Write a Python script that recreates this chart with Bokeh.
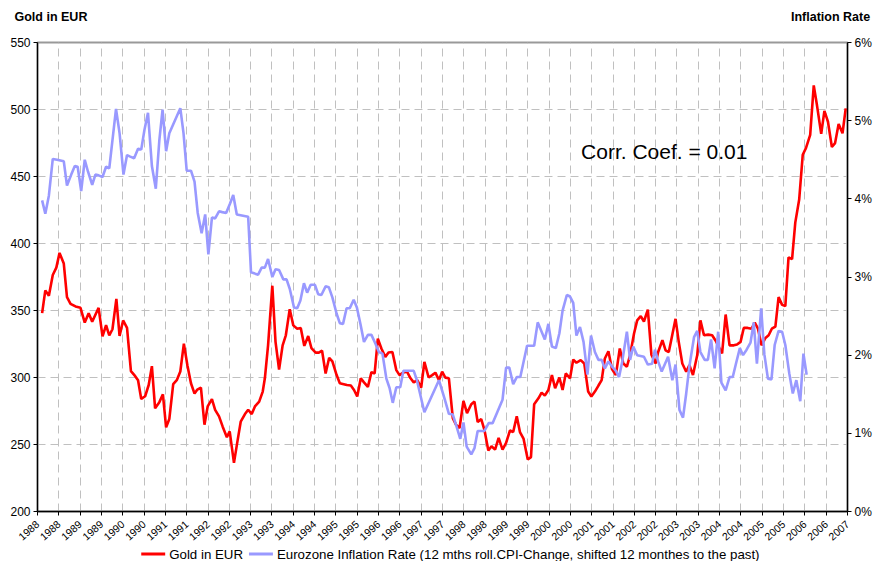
from bokeh.plotting import figure
from bokeh.layouts import column
from bokeh.models import (Range1d, LinearAxis, FixedTicker, Label)
from bokeh.core.properties import value
from bokeh.embed import file_html
from bokeh.resources import INLINE

# ---- data (months since Jan 1988) ----
gold_month = [1.3, 2.2, 3.2, 4.3, 5.3, 6.2, 7.4, 8.3, 9.3, 10.7, 12.1, 13.3, 14.4, 15.4, 17.2, 18.3,
              19.3, 20.2, 21.1, 22.2, 23.1, 24.1, 25.2, 26.3, 27.5, 28.3, 29.2, 30.3, 31.3, 32.2, 33.1,
              34.3, 35.3, 36.2, 37.1, 38.2, 39.2, 40.2, 41.2, 42.2, 43.2, 44.2, 45.0, 46.0, 47.0, 47.9,
              49.1, 50.0, 51.1, 52.1, 53.3, 54.1, 55.3, 56.2, 57.2, 58.4, 59.3, 60.3, 61.2, 62.4, 63.4,
              64.0, 64.9, 66.1, 67.0, 68.0, 69.0, 69.9, 71.0, 72.0, 73.1, 74.1, 75.1, 76.2, 77.1, 78.3,
              79.2, 80.1, 81.1, 82.1, 83.0, 84.2, 85.1, 86.2, 87.1, 88.2, 89.1, 90.0, 91.0, 91.9, 93.0,
              94.0, 94.9, 95.8, 96.8, 97.9, 98.8, 99.9, 101.0, 101.9, 103.0, 104.0, 105.0, 105.9, 106.9,
              108.0, 108.9, 110.1, 111.1, 112.0, 113.0, 113.9, 114.8, 115.8, 116.9, 117.8, 118.8, 119.9,
              120.9, 122.1, 123.0, 123.9, 124.9, 125.8, 126.9, 127.8, 128.8, 129.8, 130.9, 131.9, 133.0,
              133.9, 134.9, 135.8, 136.8, 138.0, 138.9, 139.8, 141.0, 141.9, 142.8, 143.8, 144.8, 145.7,
              146.9, 147.8, 148.7, 149.9, 150.8, 151.7, 152.9, 153.9, 155.0, 155.9, 156.9, 157.9, 158.8,
              159.7, 160.7, 161.7, 162.8, 163.9, 164.9, 165.9, 166.8, 167.9, 168.8, 169.8, 170.7, 171.8,
              172.8, 174.0, 174.7, 175.9, 176.8, 177.7, 179.6, 180.5, 181.5, 182.6, 183.5, 184.5, 185.7,
              186.6, 187.6, 188.8, 189.9, 190.8, 192.7, 193.7, 194.8, 196.0, 196.9, 197.9, 198.8, 199.9,
              201.0, 201.9, 202.8, 203.8, 204.9, 205.8, 206.7, 207.7, 208.6, 209.6, 210.5, 211.4, 212.4,
              213.3, 214.4, 215.4, 216.3, 217.5, 218.5, 219.4, 220.6, 221.5, 222.5, 223.6, 224.5, 225.5,
              226.6, 227.5]
gold_eur = [348, 365, 361, 376.5, 382, 393, 385, 360, 355, 353, 352, 341, 348, 341.6, 352, 330.7,
            339, 331.5, 336, 358.7, 331, 342.6, 337, 304.8, 301, 298, 284, 286, 294.4, 308.5, 277,
            281.6, 287.5, 262.8, 269, 295, 298, 304.5, 325.3, 309, 295.7, 288, 291, 292.5, 264.8, 278.4,
            283.8, 275.9, 271, 263.5, 255.4, 259.8, 236.3, 251, 267, 272.7, 275.9, 272.7, 278.4, 282, 289.5,
            299.4, 324, 368.5, 326.6, 306, 324, 331.5, 351, 338.9, 336.4, 337, 323.6, 331, 322, 318.6,
            318.6, 320, 303, 314.7, 312, 301.8, 295.7, 295, 294.4, 294, 290.7, 285.8, 299.4, 296.4, 293,
            304, 303, 329, 321.6, 315.4, 318.6, 319, 305.5, 301.8, 303.8, 304.3, 299.4, 296.4, 298,
            292.5, 311.7, 300, 301.8, 303.6, 298, 304.3, 299.9, 299.4, 269.7, 264.8, 262.3, 282.5,
            273.4, 280, 282, 266.7, 269, 261, 245.5, 248.7, 246.2, 254.9, 246.2, 251.2, 260.6,
            259.3, 271, 259.3, 254.4, 238.8, 240.6, 280, 284.5, 288.7, 286.5, 290.7, 301.8, 292,
            300, 290.7, 303, 299.4, 313.4, 311, 313, 310.5, 289.5, 285.8, 289.5, 294, 298,
            314.2, 319.6, 306.3, 301.8, 321.6, 310.5, 308, 316.7, 332.7, 342.6, 345.8, 341.8, 350.7,
            317, 310.5, 319, 327.8, 320.3, 319, 343.8, 326.6, 310.5, 304.3, 309.2, 301.8, 316.6,
            342.6, 331.5, 332, 331.5, 327.8, 318, 347, 324, 324, 324.6, 326.6, 337, 337,
            336.4, 340.9, 336.4, 324, 329.5, 331.5, 336.4, 338, 360, 354.2, 353.3, 389.6, 388.3,
            415.6, 432.8, 466.2, 471.2, 481, 518, 503.3, 481.8, 499, 490.9, 472, 474.9, 489.2,
            482.3, 500.8]

infl_month = [1.3, 2.2, 3.2, 4.3, 5.5, 7.4, 8.3, 9.5, 10.5, 11.3, 12.3, 13.3, 14.2, 15.4, 16.3, 17.2,
              18.3, 19.3, 20.2, 22.1, 23.1, 24.2, 25.2, 26.1, 27.2, 28.3, 29.2, 30.1, 31.1, 32.2, 33.3,
              34.3, 35.2, 36.2, 37.1, 40.2, 41.1, 42.0, 43.2, 44.2, 45.1, 46.2, 47.2, 48.1, 49.1, 50.0,
              51.1, 52.0, 53.1, 54.2, 55.1, 56.1, 59.3, 60.1, 62.1, 63.1, 64.0, 64.9, 66.1, 67.0, 68.0,
              69.2, 70.1, 71.0, 72.2, 73.1, 74.0, 75.0, 75.9, 76.9, 78.1, 79.0, 79.9, 81.1, 82.0, 83.0,
              84.2, 85.1, 86.0, 87.0, 87.9, 89.0, 89.9, 90.9, 91.9, 93.0, 94.0, 95.1, 96.1, 97.1, 98.2,
              99.1, 100.0, 101.0, 102.1, 103.0, 105.9, 106.8, 108.9, 113.0, 114.6, 115.8, 116.9, 117.8,
              119.0, 119.9, 120.8, 122.1, 123.0, 123.9, 125.8, 127.0, 128.1, 129.5, 130.9, 131.9, 132.8,
              133.9, 134.9, 135.9, 137.8, 139.8, 140.8, 141.9, 142.8, 143.8, 144.8, 145.9, 146.9, 147.8,
              149.0, 149.9, 150.8, 151.7, 152.7, 153.7, 154.8, 155.8, 156.9, 157.9, 158.8, 159.7, 160.7,
              161.8, 162.8, 163.7, 164.6, 165.9, 166.8, 167.7, 168.8, 170.7, 171.8, 173.0, 173.8, 174.7,
              175.7, 177.5, 178.7, 179.6, 180.7, 181.7, 182.6, 183.5, 184.8, 185.7, 186.6, 187.8, 188.7,
              189.6, 190.6, 191.6, 192.5, 193.7, 194.8, 195.7, 196.6, 197.7, 198.6, 199.6, 200.7, 201.6,
              202.5, 203.7, 204.6, 205.6, 206.6, 207.5, 208.6, 209.6, 210.5, 211.6, 212.6, 213.6, 214.7,
              215.6, 216.5]
infl_rate = [3.98, 3.81, 4.04, 4.51, 4.50, 4.48, 4.17, 4.31, 4.42, 4.41, 4.10, 4.50, 4.35, 4.18, 4.31, 4.30,
             4.28, 4.41, 4.39, 5.15, 4.84, 4.31, 4.56, 4.54, 4.52, 4.64, 4.63, 4.88, 5.10, 4.42, 4.13,
             4.75, 5.14, 4.61, 4.84, 5.16, 4.84, 4.36, 4.36, 4.22, 3.82, 3.56, 3.80, 3.29, 3.76, 3.75,
             3.84, 3.83, 3.82, 3.94, 4.05, 3.80, 3.77, 3.06, 3.03, 3.12, 3.12, 3.23, 3.00, 3.10, 3.09,
             2.97, 2.97, 2.85, 2.61, 2.60, 2.70, 2.92, 2.80, 2.90, 2.90, 2.78, 2.77, 2.88, 2.87, 2.74,
             2.53, 2.41, 2.40, 2.60, 2.60, 2.71, 2.61, 2.40, 2.17, 2.26, 2.26, 2.15, 2.04, 2.02, 1.70,
             1.58, 1.39, 1.59, 1.59, 1.80, 1.80, 1.68, 1.27, 1.68, 1.44, 1.25, 1.24, 1.11,
             0.93, 1.14, 0.83, 0.73, 0.81, 1.03, 1.03, 1.13, 1.13, 1.28, 1.43, 1.84, 1.84,
             1.63, 1.72, 1.72, 2.12, 2.12, 2.42, 2.30, 2.20, 2.40, 2.11, 2.09, 2.28, 2.57,
             2.77, 2.75, 2.67, 2.25, 2.36, 2.17, 1.75, 2.25, 2.04, 1.94, 1.94, 1.83, 1.92,
             1.85, 1.80, 1.72, 1.92, 2.30, 1.94, 2.11, 2.00, 1.98, 1.88, 1.89, 2.07, 1.92,
             1.79, 1.98, 1.68, 1.88, 1.30, 1.20, 1.51, 1.86, 2.23, 2.31, 2.04, 1.94, 1.94,
             2.20, 1.83, 2.30, 1.65, 1.55, 1.72, 1.72, 1.89, 2.09, 2.00, 2.07, 2.16, 2.42,
             1.89, 2.60, 2.01, 1.70, 1.69, 2.13, 2.31, 2.30, 2.13, 1.77, 1.51, 1.68, 1.41,
             2.02, 1.75]

x_ticks = [1988 + 0.5 * i for i in range(39)]
x_tick_labels = [str(int(t)) for t in x_ticks]
gold_ticks = [200, 250, 300, 350, 400, 450, 500, 550]
infl_ticks = [0, 1, 2, 3, 4, 5, 6]
infl_tick_labels = ["0%", "1%", "2%", "3%", "4%", "5%", "6%"]
left_title = "Gold in EUR"
right_title = "Inflation Rate"
corr_text = "Corr. Coef. = 0.01"
gold_name = "Gold in EUR"
infl_name = "Eurozone Inflation Rate (12 mths roll.CPI-Change, shifted 12 monthes to the past)"

gold_x = [1988 + m / 12 for m in gold_month]
infl_x = [1988 + m / 12 for m in infl_month]

FONT = "Liberation Sans"
RED = "#ff0000"
BLUE = "#9999ff"

p = figure(width=874, height=546, x_range=Range1d(1988, 2007), y_range=Range1d(200, 550),
           output_backend="svg", toolbar_location=None,
           min_border_left=37, min_border_right=25, min_border_top=42, min_border_bottom=32)
p.title = None
p.background_fill_color = "white"
p.border_fill_color = "white"
p.outline_line_color = "#999999"
p.outline_line_width = 2

p.extra_y_ranges = {"infl": Range1d(0, 6)}
p.extra_x_ranges = {"hdr": Range1d(0, 812)}

# grids
p.xgrid.ticker = FixedTicker(ticks=x_ticks)
p.ygrid.ticker = FixedTicker(ticks=gold_ticks)
for g in (p.xgrid, p.ygrid):
    g.grid_line_color = "#c0c0c0"
    g.grid_line_dash = "8 5"
    g.grid_line_width = 1

# x axis
xa = p.xaxis[0]
xa.ticker = FixedTicker(ticks=x_ticks)
xa.major_label_overrides = {t: l for t, l in zip(x_ticks, x_tick_labels)}
xa.major_label_orientation = 0.72
xa.major_label_text_font = FONT
xa.major_label_text_font_size = "10.5px"
xa.major_label_text_color = "black"
xa.major_label_standoff = 7

# left axis
ya = p.yaxis[0]
ya.ticker = FixedTicker(ticks=gold_ticks)
ya.major_label_text_font = FONT
ya.major_label_text_font_size = "12px"
ya.major_label_text_color = "black"
ya.major_label_standoff = 3

# right axis
ra = LinearAxis(y_range_name="infl")
ra.ticker = FixedTicker(ticks=infl_ticks)
ra.major_label_overrides = {t: l for t, l in zip(infl_ticks, infl_tick_labels)}
ra.major_label_text_font = FONT
ra.major_label_text_font_size = "12px"
ra.major_label_text_color = "black"
ra.major_label_standoff = 3
p.add_layout(ra, "right")

for ax in (xa, ya, ra):
    ax.axis_line_color = "black"
    ax.axis_line_width = 1.3
    ax.major_tick_line_color = "black"
    ax.major_tick_out = 4
    ax.major_tick_in = 0
    ax.minor_tick_line_color = None

# header texts (axis titles) drawn as labels of a bare top axis
ha = LinearAxis(x_range_name="hdr")
ha.ticker = FixedTicker(ticks=[13.5, 795])
ha.major_label_overrides = {13.5: left_title, 795: right_title}
ha.axis_line_color = None
ha.major_tick_line_color = None
ha.minor_tick_line_color = None
ha.major_tick_out = 0
ha.major_tick_in = 0
ha.major_label_standoff = 19
ha.major_label_text_font = FONT
ha.major_label_text_font_size = "12.5px"
ha.major_label_text_font_style = "bold"
ha.major_label_text_color = "black"
p.add_layout(ha, "above")

p.line(gold_x, gold_eur, line_color=RED, line_width=2.6)
p.line(infl_x, infl_rate, y_range_name="infl", line_color=BLUE, line_width=2.6)

p.add_layout(Label(x=2000.75, y=469, text=corr_text, text_font=FONT,
                   text_font_size="21px", text_color="black", text_baseline="alphabetic"))

# legend strip below the chart; its frame is aligned with the main frame (37..849 px)
q = figure(width=874, height=15, x_range=Range1d(37, 849), y_range=Range1d(0, 15),
           output_backend="svg", toolbar_location=None,
           min_border_left=37, min_border_right=25, min_border_top=0, min_border_bottom=0)
q.title = None
q.axis.visible = False
q.grid.visible = False
q.outline_line_color = None
q.background_fill_color = "white"
q.border_fill_color = "white"
q.segment(x0=[141, 249], x1=[165, 273], y0=[7.5, 7.5], y1=[7.5, 7.5],
          line_color=[RED, BLUE], line_width=2.8)
q.text(x=[169, 277], y=[7.5, 7.5], text=[gold_name, infl_name],
       text_font=value(FONT), text_font_size=value("13.3px"), text_color="black",
       text_baseline="middle", text_align="left")

open("out.html", "w").write(file_html(column(p, q, spacing=0), INLINE))
